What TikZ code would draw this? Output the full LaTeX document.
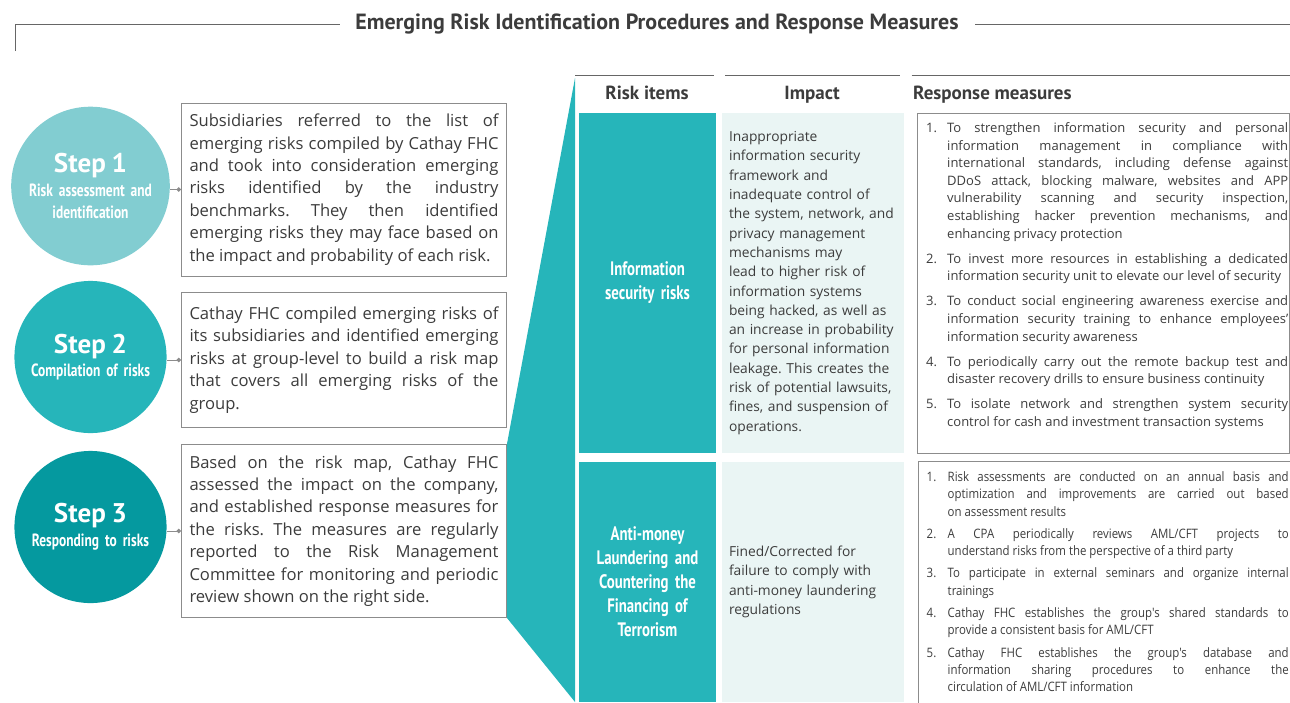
\documentclass[tikz,border=0pt]{standalone}
\usepackage{fontspec}
\setmainfont{Open Sans}
\newfontfamily\ptfont{PT Sans}
\newfontfamily\condfont[FakeStretch=0.76]{PT Sans}
\newfontfamily\narrowfont[FakeStretch=0.88]{Open Sans}
\frenchspacing
\usetikzlibrary{arrows.meta}
\usetikzlibrary{backgrounds}
\definecolor{tealmain}{HTML}{26B5BA}
\definecolor{teallight}{HTML}{82CDD1}
\definecolor{tealdark}{HTML}{05999F}
\definecolor{impactbg}{HTML}{EAF5F4}
\definecolor{boxgray}{HTML}{8C8C8C}
\definecolor{rulegray}{HTML}{666666}
\definecolor{textgray}{HTML}{3C3C3C}
\newcommand{\ritem}[2]{\hangindent=21pt\hangafter=1\noindent\makebox[21pt][l]{#1.}#2\par}
\tikzset{
	stepstyle/.style={circle, minimum size=151pt, inner sep=0pt, text width=145pt, align=center, text=white, font=\condfont\bfseries\fontsize{17.7}{22}\selectfont},
	boxstyle/.style={draw=boxgray, fill=white, line width=0.9pt, minimum width=325pt, text width=309pt, inner xsep=8pt, align=justify, text=textgray, font=\fontsize{16.6}{22.4}\selectfont},
	linkstyle/.style={draw=boxgray, line width=0.9pt, -{Circle[length=4.5pt]}},
	rulestyle/.style={draw=rulegray, line width=1pt},
	headstyle/.style={text=textgray, inner sep=0pt, font=\ptfont\bfseries\fontsize{19}{22}\selectfont},
	riskcell/.style={fill=tealmain, minimum width=137pt, text width=130pt, align=center, text=white, font=\condfont\bfseries\fontsize{19.5}{24}\selectfont},
	impactcell/.style={fill=impactbg, minimum width=182pt, text width=168pt, inner xsep=7pt, align=left, text=textgray, font=\fontsize{13.8}{19.3}\selectfont},
	respbox/.style={draw=boxgray, line width=0.9pt, minimum width=372pt, anchor=north west},
	resptext/.style={anchor=north west, inner sep=0pt, text width=362pt, align=justify, text=textgray, font=\fontsize{13}{17.6}\selectfont\setlength{\parskip}{7.5pt}}
}

\begin{document}
\begin{tikzpicture}[x=1pt, y=-1pt]
	\path[use as bounding box, clip] (0,0) rectangle (1290,702);
	\node[text=textgray, font=\ptfont\bfseries\fontsize{22}{26}\selectfont, anchor=base] (title) at (657,29.5) {Emerging Risk Identification Procedures and Response Measures};
	\draw[rulestyle] (15,51) -- (15,24) -- (340,24);
	\draw[rulestyle] (975,24) -- (1290,24);

	\node[stepstyle, fill=teallight] (step1) at (90.5,186) {{\ptfont\fontsize{27}{30}\selectfont Step 1}\\[1.7pt]Risk assessment and\\identification};
	\node[stepstyle, fill=tealmain] (step2) at (90.5,357) {{\ptfont\fontsize{27}{30}\selectfont Step 2}\\[1.7pt]Compilation of risks};
	\node[stepstyle, fill=tealdark] (step3) at (90.5,527) {{\ptfont\fontsize{27}{30}\selectfont Step 3}\\[1.7pt]Responding to risks};

	\node[boxstyle, minimum height=173pt] (box1) at (344,189.5) {Subsidiaries referred to the list of\linebreak emerging risks compiled by Cathay FHC\linebreak and took into consideration emerging\linebreak risks identified by the industry\linebreak benchmarks. They then identified\linebreak emerging risks they may face based on\linebreak the impact and probability of each risk.};
	\node[boxstyle, minimum height=135pt] (box2) at (344,360) {Cathay FHC compiled emerging risks of\linebreak its subsidiaries and identified emerging\linebreak risks at group-level to build a risk map\linebreak that covers all emerging risks of the\linebreak group.};
	\node[boxstyle, minimum height=173pt] (box3) at (344,531) {Based on the risk map, Cathay FHC\linebreak assessed the impact on the company,\linebreak and established response measures for\linebreak the risks. The measures are regularly\linebreak reported to the Risk Management\linebreak Committee for monitoring and periodic\linebreak review shown on the right side.};

	\draw[linkstyle] (box1.west -| step1.east) -- (box1.west);
	\draw[linkstyle] (box2.west -| step2.east) -- (box2.west);
	\draw[linkstyle] (box3.west -| step3.east) -- (box3.west);

	\begin{scope}[on background layer]
		\fill[tealmain] (575,78) -- (box3.north east) -- (box3.south east) -- (575,702) -- cycle;
	\end{scope}

	\draw[rulestyle] (575,75) -- (714,75);
	\draw[rulestyle] (725,75) -- (900,75);
	\draw[rulestyle] (911.5,75) -- (1290,75);
	\node[headstyle, anchor=base] (hrisk) at (647,99.5) {Risk items};
	\node[headstyle, anchor=base] (himpact) at (812,99.5) {Impact};
	\node[headstyle, anchor=base west] (hresp) at (913,99.5) {Response measures};

	\node[riskcell, minimum height=340pt] (risk1) at (647.5,283) {Information\\security risks};
	\node[riskcell, minimum height=240pt] (risk2) at (647.5,582) {Anti-money\\Laundering and\\Countering the\\Financing of\\Terrorism};

	\node[impactcell, minimum height=340pt] (impact1) at (813,283) {Inappropriate\\information security\\framework and\\inadequate control of\\the system, network, and\\privacy management\\mechanisms may\\lead to higher risk of\\information systems\\being hacked, as well as\\an increase in probability\\for personal information\\leakage. This creates the\\risk of potential lawsuits,\\fines, and suspension of\\operations.};
	\node[impactcell, minimum height=240pt] (impact2) at (813,582) {Fined/Corrected for\\failure to comply with\\anti-money laundering\\regulations};

	\node[respbox, minimum height=340pt] (resp1) at (917,113) {};
	\node[respbox, minimum height=260pt] (resp2) at (917.5,461) {};

	\node[resptext] (list1) at ([xshift=9pt, yshift=-9.4pt]resp1.north west) {%
		\ritem{1}{To strengthen information security and personal\linebreak information management in compliance with\linebreak international standards, including defense against\linebreak DDoS attack, blocking malware, websites and APP\linebreak vulnerability scanning and security inspection,\linebreak establishing hacker prevention mechanisms, and\linebreak enhancing privacy protection}
		\ritem{2}{To invest more resources in establishing a dedicated\linebreak information security unit to elevate our level of security}
		\ritem{3}{To conduct social engineering awareness exercise and\linebreak information security training to enhance employees'\linebreak information security awareness}
		\ritem{4}{To periodically carry out the remote backup test and\linebreak disaster recovery drills to ensure business continuity}
		\ritem{5}{To isolate network and strengthen system security\linebreak control for cash and investment transaction systems}};
	\node[resptext, font=\narrowfont\fontsize{13}{17.3}\selectfont\setlength{\parskip}{5pt}] (list2) at ([xshift=9pt, yshift=-10.4pt]resp2.north west) {%
		\ritem{1}{Risk assessments are conducted on an annual basis and\linebreak optimization and improvements are carried out based\linebreak on assessment results}
		\ritem{2}{A CPA periodically reviews AML/CFT projects to\linebreak understand risks from the perspective of a third party}
		\ritem{3}{To participate in external seminars and organize internal\linebreak trainings}
		\ritem{4}{Cathay FHC establishes the group's shared standards to\linebreak provide a consistent basis for AML/CFT}
		\ritem{5}{Cathay FHC establishes the group's database and\linebreak information sharing procedures to enhance the\linebreak circulation of AML/CFT information}};
\end{tikzpicture}
\end{document}
